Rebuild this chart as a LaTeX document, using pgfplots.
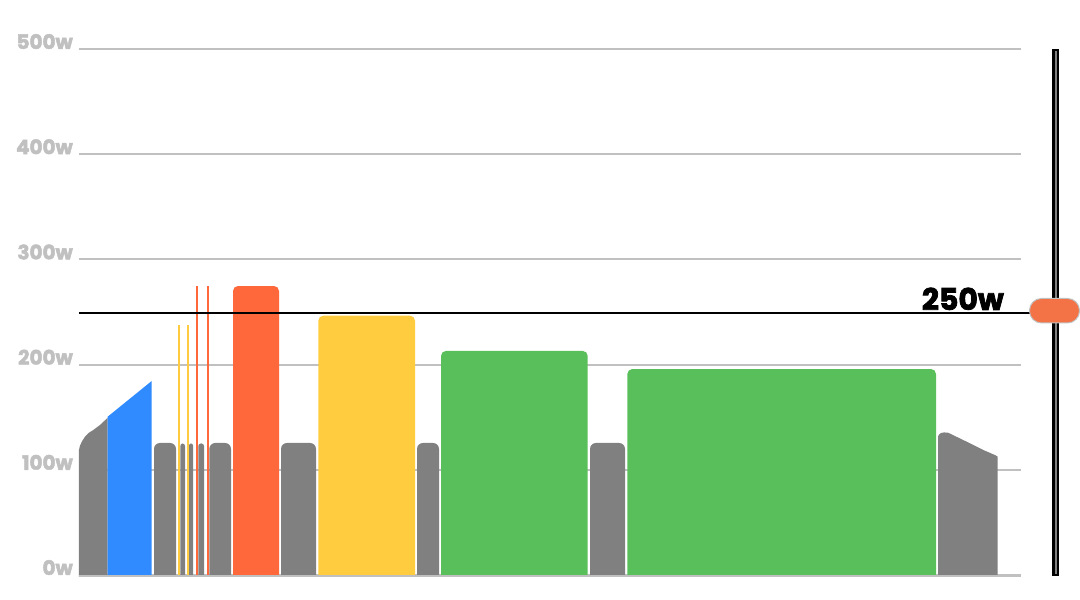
\documentclass[border=0pt]{standalone}
\usepackage{fontspec}
\setmainfont{Poppins}
\newfontfamily\heavy{Poppins}[BoldFeatures={FakeBold=2.5}]
\usepackage{pgfplots}
\pgfplotsset{compat=1.18}
\definecolor{cgray}{HTML}{808080}
\definecolor{cblue}{HTML}{2F8BFF}
\definecolor{corange}{HTML}{FF683B}
\definecolor{cyellow}{HTML}{FFCB3F}
\definecolor{cgreen}{HTML}{59BF5B}
\definecolor{cgrid}{HTML}{C0C0C0}
\definecolor{cknob}{HTML}{F47346}
\begin{document}
\begin{tikzpicture}[x=1bp,y=1bp]
\useasboundingbox (-79,-23.422) rectangle (1001,576.578);
\begin{axis}[
  scale only axis, width=942bp, height=527.578bp,
  xmin=79, xmax=1021, ymin=-1.5, ymax=500,
  axis line style={draw=none},
  major tick length=0pt,
  xtick=\empty,
  ytick={0,100,200,300,400,500},
  yticklabels={0w,100w,200w,300w,400w,500w},
  yticklabel style={font=\fontsize{20}{20}\selectfont\heavy\bfseries, text=cgrid, anchor=base east, inner sep=0pt, xshift=-6bp},
  ymajorgrids,
  grid style={cgrid, line width=2bp},
]
% warm-up ramp
\addplot[fill=cgray, draw=none] coordinates {(79,-20)(79,119)(80,123)(82,127)(85,131.5)(89,135.3)(93.3,137.8)(100,142.6)(107.7,149.5)(107.7,-20)} --cycle;
\addplot[fill=cblue, draw=none] coordinates {(107.7,-20)(107.7,150.5)(151.7,184.4)(151.7,-20)} --cycle;
% blocks
\addplot[fill=cgray, draw=none, rounded corners=6bp] coordinates {(154,-20)(154,125.5)(176,125.5)(176,-20)} --cycle;
\addplot[fill=cyellow, draw=none] coordinates {(178,-20)(178,238)(180,238)(180,-20)} --cycle;
\addplot[fill=cgray, draw=none, rounded corners=2.5bp] coordinates {(180.3,-20)(180.3,125)(185,125)(185,-20)} --cycle;
\addplot[fill=cyellow, draw=none] coordinates {(187,-20)(187,238)(189,238)(189,-20)} --cycle;
\addplot[fill=cgray, draw=none, rounded corners=2bp] coordinates {(189,-20)(189,125)(193,125)(193,-20)} --cycle;
\addplot[fill=corange, draw=none] coordinates {(196,-20)(196,275)(198,275)(198,-20)} --cycle;
\addplot[fill=cgray, draw=none, rounded corners=2.5bp] coordinates {(198.3,-20)(198.3,125)(204,125)(204,-20)} --cycle;
\addplot[fill=corange, draw=none] coordinates {(207,-20)(207,275)(209,275)(209,-20)} --cycle;
\addplot[fill=cgray, draw=none, rounded corners=6bp] coordinates {(209.3,-20)(209.3,125.5)(231,125.5)(231,-20)} --cycle;
\addplot[fill=corange, draw=none, rounded corners=5bp] coordinates {(233,-20)(233,274.7)(279,274.7)(279,-20)} --cycle;
\addplot[fill=cgray, draw=none, rounded corners=6bp] coordinates {(281,-20)(281,125.5)(316,125.5)(316,-20)} --cycle;
\addplot[fill=cyellow, draw=none, rounded corners=5bp] coordinates {(318.3,-20)(318.3,246.5)(415,246.5)(415,-20)} --cycle;
\addplot[fill=cgray, draw=none, rounded corners=6bp] coordinates {(417,-20)(417,125.5)(439,125.5)(439,-20)} --cycle;
\addplot[fill=cgreen, draw=none, rounded corners=5bp] coordinates {(441,-20)(441,213)(587.7,213)(587.7,-20)} --cycle;
\addplot[fill=cgray, draw=none, rounded corners=6bp] coordinates {(590,-20)(590,125.5)(625,125.5)(625,-20)} --cycle;
\addplot[fill=cgreen, draw=none, rounded corners=5bp] coordinates {(627.3,-20)(627.3,195.8)(936,195.8)(936,-20)} --cycle;
% cool-down
\addplot[fill=cgray, draw=none] coordinates {(938,-20)(938,131.5)(939,133.5)(941,135)(944,135.5)(948,135.3)(966.7,126.7)(983.3,118.8)(995,114)(997.7,112.5)(997.7,-20)} --cycle;
% baseline
\addplot[cgrid, line width=2bp] coordinates {(79,-0.5)(1021,-0.5)};
% threshold
\addplot[black, line width=2bp] coordinates {(79,249.3)(1021,249.3)};
\end{axis}
% threshold tail to slider
\draw[black, line width=2bp] (941,263.84) -- (956,263.84);
\node[anchor=base east, inner sep=0pt, font=\fontsize{30}{30}\selectfont\heavy\bfseries, text=black] at (925,266.6) {250w};
% slider
\fill[black] (973,0.578) rectangle (980,527.578);
\fill[cgray] (976,2.6) rectangle (978,525.6);
\draw[cgrid, line width=1bp, fill=cknob, rounded corners=12bp] (950.5,253.6) rectangle (1000.5,278.1);
\end{tikzpicture}
\end{document}
